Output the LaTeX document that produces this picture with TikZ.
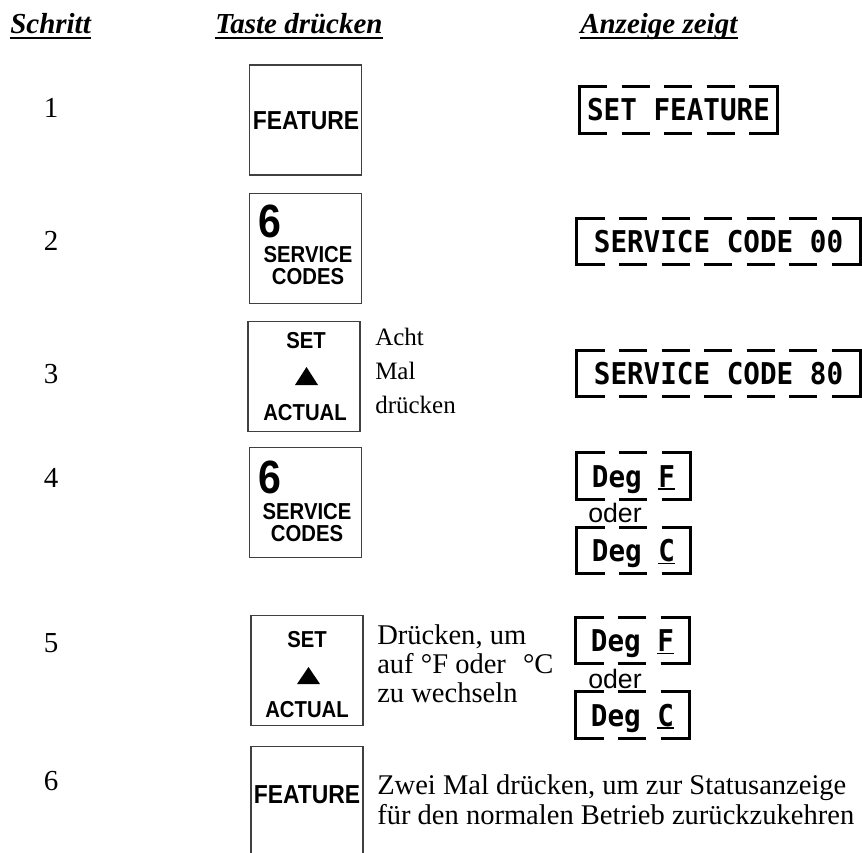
\documentclass[tikz,border=0pt]{standalone}
\usepackage{fontspec}
\setmainfont{Liberation Serif}
\newfontfamily\keyfont[FakeStretch=0.88]{Liberation Sans}
\newfontfamily\lcdfont[FakeStretch=0.92]{DejaVu Sans Mono}
\newfontfamily\oderfont{Liberation Sans}

\newcommand{\lcdframe}[1]{%
  \draw[lcdside] (#1.north west) -- (#1.south west);
  \draw[lcdside] (#1.north east) -- (#1.south east);
  \draw[lcddash] (#1.north west) -- (#1.north east);
  \draw[lcddash] (#1.south west) -- (#1.south east);}
\newcommand{\cursor}[1]{\setbox0\hbox{#1}\rlap{\rule[-2.2pt]{\wd0}{1.2pt}}\box0}

\begin{document}
\begin{tikzpicture}[x=0.75pt,y=-0.75pt]
  \tikzstyle{headtext}=[inner sep=0pt,font=\bfseries\itshape\fontsize{21.75pt}{24pt}\selectfont]
  \tikzstyle{headline}=[line width=1.5pt]
  \tikzstyle{stepno}=[inner sep=0pt,font=\fontsize{21.75pt}{24pt}\selectfont]
  \tikzstyle{keybox}=[draw=black!75,line width=0.8pt,minimum width=84pt,minimum height=82.5pt,inner sep=0pt]
  \tikzstyle{keytext}=[inner sep=0pt,text height=12.4pt,text depth=0pt,font=\keyfont\bfseries\fontsize{17.3pt}{20pt}\selectfont]
  \tikzstyle{keywide}=[inner sep=0pt,font=\keyfont\bfseries\fontsize{19.5pt}{20pt}\selectfont]
  \tikzstyle{keybig}=[inner sep=0pt,font=\keyfont\bfseries\fontsize{35pt}{36pt}\selectfont]
  \tikzstyle{hint}=[inner sep=0pt,align=left,font=\fontsize{21.4pt}{21.4pt}\selectfont]
  \tikzstyle{lcd}=[inner sep=0pt,minimum height=34.5pt,text height=16.5pt,text depth=0pt,font=\lcdfont\bfseries\fontsize{22.5pt}{24pt}\selectfont]
  \tikzstyle{lcdside}=[line width=2pt,line cap=rect]
  \tikzstyle{lcddash}=[line width=2pt,dash pattern=on 21pt off 10.875pt]
  \tikzstyle{oder}=[inner sep=0pt,font=\oderfont\fontsize{20pt}{22pt}\selectfont]

  \useasboundingbox (0,0) rectangle (862,852);

  \node[headtext,anchor=base west] (hstep) at (10,34) {Schritt};
  \node[headtext,anchor=base west] (hkey) at (215,34) {Taste drücken};
  \node[headtext,anchor=base west] (hshow) at (580,34) {Anzeige zeigt};
  \draw[headline] ([yshift=-3pt]hstep.base west) -- ([yshift=-3pt]hstep.base east);
  \draw[headline] ([yshift=-3pt]hkey.base west) -- ([yshift=-3pt]hkey.base east);
  \draw[headline] ([yshift=-3pt]hshow.base west) -- ([yshift=-3pt]hshow.base east);

  \node[stepno,anchor=base] (s1) at (51,118) {1};
  \node[stepno,anchor=base] (s2) at (51,250) {2};
  \node[stepno,anchor=base] (s3) at (51,383) {3};
  \node[stepno,anchor=base] (s4) at (51,487) {4};
  \node[stepno,anchor=base] (s5) at (51,652) {5};
  \node[stepno,anchor=base] (s6) at (51,790) {6};

  \node[keybox] (k1) at (305.5,120) {};
  \node[keywide,anchor=base] (k1a) at (306,130) {FEATURE};

  \node[keybox] (k2) at (305.5,248.5) {};
  \node[keybig,anchor=base west] (k2a) at (258,237) {6};
  \node[keytext,anchor=base] (k2b) at (308,262) {SERVICE};
  \node[keytext,anchor=base] (k2c) at (308,284) {CODES};

  \node[keybox] (k3) at (304,376.5) {};
  \node[keytext,anchor=base] (k3a) at (306,348) {SET};
  \fill (295,385) -- (318,385) -- (306.5,367) -- cycle;
  \node[keytext,anchor=base] (k3b) at (305,420) {ACTUAL};
  \node[hint,anchor=base west,font=\fontsize{18.75pt}{25.5pt}\selectfont] (t3) at (375,413) {Acht\\Mal\\drücken};

  \node[keybox] (k4) at (305.5,502.5) {};
  \node[keybig,anchor=base west] (k4a) at (258,493) {6};
  \node[keytext,anchor=base] (k4b) at (307,519) {SERVICE};
  \node[keytext,anchor=base] (k4c) at (307,541) {CODES};

  \node[keybox] (k5) at (307,670.5) {};
  \node[keytext,anchor=base] (k5a) at (307,647) {SET};
  \fill (297,684) -- (320,684) -- (308.5,667) -- cycle;
  \node[keytext,anchor=base] (k5b) at (307,717) {ACTUAL};
  \node[hint,anchor=base west] (t5) at (377,702) {Drücken, um\\auf °F oder\hspace{0.6em}°C\\zu wechseln};

  \node[keybox] (k6) at (307,801.5) {};
  \node[keywide,anchor=base] (k6a) at (307,803) {FEATURE};
  \node[hint,anchor=base west,font=\fontsize{21.4pt}{22.5pt}\selectfont] (t6) at (377,824) {Zwei Mal drücken, um zur Statusanzeige\\für den normalen Betrieb zurückzukehren};

  \node[lcd,minimum width=148.5pt] (d1) at (678.5,110) {SET FEATURE};
  \lcdframe{d1}
  \node[lcd,minimum width=212.25pt] (d2) at (718.5,241.5) {SERVICE CODE 00};
  \lcdframe{d2}
  \node[lcd,minimum width=212.25pt] (d3) at (718.5,373.5) {SERVICE CODE 80};
  \lcdframe{d3}

  \node[lcd,minimum width=84.75pt] (d4) at (633.5,476) {Deg \cursor{F}};
  \lcdframe{d4}
  \node[oder,anchor=base west] (o4) at (588,522) {oder};
  \node[lcd,minimum width=84.75pt] (d5) at (633.5,550.5) {Deg \cursor{C}};
  \lcdframe{d5}

  \node[lcd,minimum width=84.75pt] (d6) at (632.5,640.5) {Deg \cursor{F}};
  \lcdframe{d6}
  \node[oder,anchor=base west] (o6) at (588,688) {oder};
  \node[lcd,minimum width=84.75pt] (d7) at (632.5,715) {Deg \cursor{C}};
  \lcdframe{d7}
\end{tikzpicture}
\end{document}
